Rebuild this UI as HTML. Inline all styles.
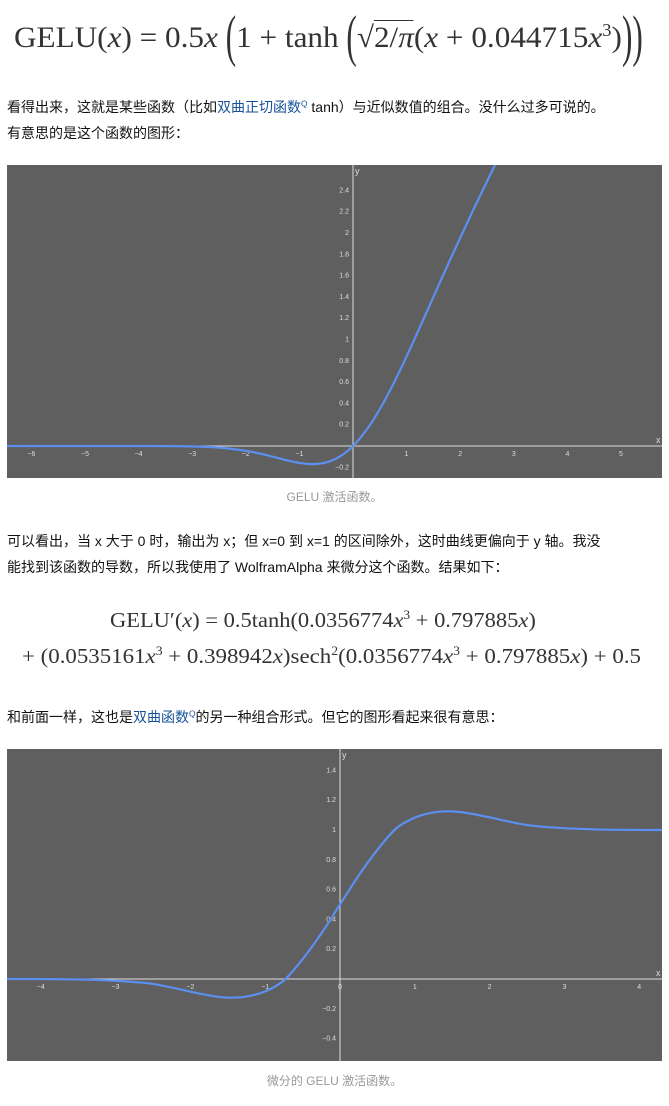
<!DOCTYPE html>
<html><head><meta charset="utf-8">
<style>
body{margin:0;width:669px;height:1106px;background:#fff;position:relative;overflow:hidden;font-family:"Liberation Sans","Noto Sans CJK SC",sans-serif;color:#121212}
.abs{position:absolute;white-space:nowrap}
.p{font-size:14px;left:7px}
.f{font-family:"Liberation Serif","DejaVu Serif",serif;color:#333;transform-origin:left top}
.cap{font-size:12px;color:#999;width:669px;text-align:center;left:0}
a{color:#175199;text-decoration:none}
i{font-style:italic}
.big{display:inline-block;transform:scaleY(1.9);font-weight:100}
sup{font-size:60%}
</style></head><body>
<div class="abs f" style="left:14px;top:20px;font-size:30px;transform:scaleX(1.04)">GELU(<i>x</i>) = 0.5<i>x</i> <span class="big">(</span>1 + tanh <span class="big">(</span>√<span style="border-top:1.5px solid #333">2/<i>π</i></span>(<i>x</i> + 0.044715<i>x</i><sup>3</sup>)<span class="big">)</span><span class="big">)</span></div>
<div class="abs p" style="top:97px">看得出来，这就是某些函数（比如<a>双曲正切函数<sup>Q</sup></a> tanh）与近似数值的组合。没什么过多可说的。</div>
<div class="abs p" style="top:123px">有意思的是这个函数的图形：</div>
<svg id="c1" class="abs" style="left:7px;top:165px" width="655" height="313"></svg>
<div class="abs cap" style="top:488px">GELU 激活函数。</div>
<div class="abs p" style="top:531px">可以看出，当 x 大于 0 时，输出为 x；但 x=0 到 x=1 的区间除外，这时曲线更偏向于 y 轴。我没</div>
<div class="abs p" style="top:557px">能找到该函数的导数，所以我使用了 WolframAlpha 来微分这个函数。结果如下：</div>
<div class="abs f" style="left:110px;top:608px;font-size:21px;transform:scaleX(1.07)">GELU′(<i>x</i>) = 0.5tanh(0.0356774<i>x</i><sup>3</sup> + 0.797885<i>x</i>)</div>
<div class="abs f" style="left:22px;top:644px;font-size:21px;transform:scaleX(1.09)">+ (0.0535161<i>x</i><sup>3</sup> + 0.398942<i>x</i>)sech<sup>2</sup>(0.0356774<i>x</i><sup>3</sup> + 0.797885<i>x</i>) + 0.5</div>
<div class="abs p" style="top:707px">和前面一样，这也是<a>双曲函数<sup>Q</sup></a>的另一种组合形式。但它的图形看起来很有意思：</div>
<svg id="c2" class="abs" style="left:7px;top:749px" width="655" height="312"></svg>
<div class="abs cap" style="top:1072px">微分的 GELU 激活函数。</div>
<script>
const xs1=[-6.5,-6,-5,-4,-3.5,-3,-2.5,-2,-1.75,-1.5,-1.25,-1,-0.75,-0.5,-0.25,0,0.25,0.5,0.75,1,1.25,1.5,1.75,2,2.25,2.5,2.75,3];
const ys1=[0,0,0,0,-0.001,-0.004,-0.015,-0.045,-0.070,-0.100,-0.132,-0.159,-0.170,-0.154,-0.100,0,0.150,0.346,0.580,0.841,1.118,1.400,1.680,1.955,2.223,2.485,2.742,2.996];
const xt1=[-6,-5,-4,-3,-2,-1,1,2,3,4,5];
const yt1=[-0.2,0.2,0.4,0.6,0.8,1,1.2,1.4,1.6,1.8,2,2.2,2.4];
const xs2=[-4.5,-4,-3.5,-3,-2.5,-2,-1.75,-1.5,-1.25,-1,-0.75,-0.5,-0.25,0,0.25,0.5,0.75,1,1.25,1.5,1.75,2,2.5,3,3.5,4,4.5];
const ys2=[0,-0.0005,-0.003,-0.012,-0.033,-0.085,-0.110,-0.125,-0.118,-0.083,-0.010,0.133,0.305,0.5,0.695,0.867,1.010,1.083,1.118,1.125,1.110,1.085,1.033,1.012,1.003,1.0005,1];
const xt2=[-4,-3,-2,-1,0,1,2,3,4];
const yt2=[-0.4,-0.2,0.2,0.4,0.6,0.8,1,1.2,1.4];
const NS='http://www.w3.org/2000/svg';
function mk(svg,tag,at){const e=document.createElementNS(NS,tag);for(const k in at)e.setAttribute(k,at[k]);svg.appendChild(e);return e;}
function draw(id,W,H,x0,y0,sx,sy,xs,ys,xt,yt){
 const svg=document.getElementById(id);
 const X=v=>x0+v*sx, Y=v=>y0-v*sy;
 const bg=mk(svg,'rect',{x:0,y:0,width:W,height:H,fill:'#5f5f5f'});
 
 
 const xa=mk(svg,'line',{x1:0,x2:W,y1:Y(0),y2:Y(0),stroke:'#ddd','stroke-width':1});
 
 
 const ya=mk(svg,'line',{x1:X(0),x2:X(0),y1:0,y2:H,stroke:'#ddd','stroke-width':1});
 
 
 const xl=mk(svg,'text',{x:W-6,y:Y(0)-3,fill:'#ddd','font-size':9,'font-family':'Liberation Sans'});xl.textContent='x';
 
 
 const yl=mk(svg,'text',{x:X(0)+2,y:9,fill:'#ddd','font-size':9,'font-family':'Liberation Sans'});yl.textContent='y';
 
 
 xt.forEach(v=>{const t=mk(svg,'text',{x:X(v),y:Y(0)+10,fill:'#ddd','font-size':7,'text-anchor':'middle','font-family':'Liberation Sans'});t.textContent=v<0?'−'+(-v):v;
  
  });
 yt.forEach(v=>{const t=mk(svg,'text',{x:X(0)-4,y:Y(v)+2,fill:'#ddd','font-size':7,'text-anchor':'end','font-family':'Liberation Sans'});t.textContent=v<0?'−'+(-v):v;
  
  });
 const P=xs.map((v,i)=>[X(v),Y(ys[i])]);
 let d='M'+P[0][0]+','+P[0][1];
 for(let i=0;i<P.length-1;i++){const p0=P[i-1]||P[i],p1=P[i],p2=P[i+1],p3=P[i+2]||p2;
  d+=' C'+(p1[0]+(p2[0]-p0[0])/6)+','+(p1[1]+(p2[1]-p0[1])/6)+' '+(p2[0]-(p3[0]-p1[0])/6)+','+(p2[1]-(p3[1]-p1[1])/6)+' '+p2[0]+','+p2[1];}
 const c=mk(svg,'path',{d:d,fill:'none',stroke:'#5b8ff0','stroke-width':2.2});
 
 
}
draw('c1',655,313,346,281,53.6,106.5,xs1,ys1,xt1,yt1);
draw('c2',655,312,333,230,74.8,149,xs2,ys2,xt2,yt2);
</script>
</body></html>
